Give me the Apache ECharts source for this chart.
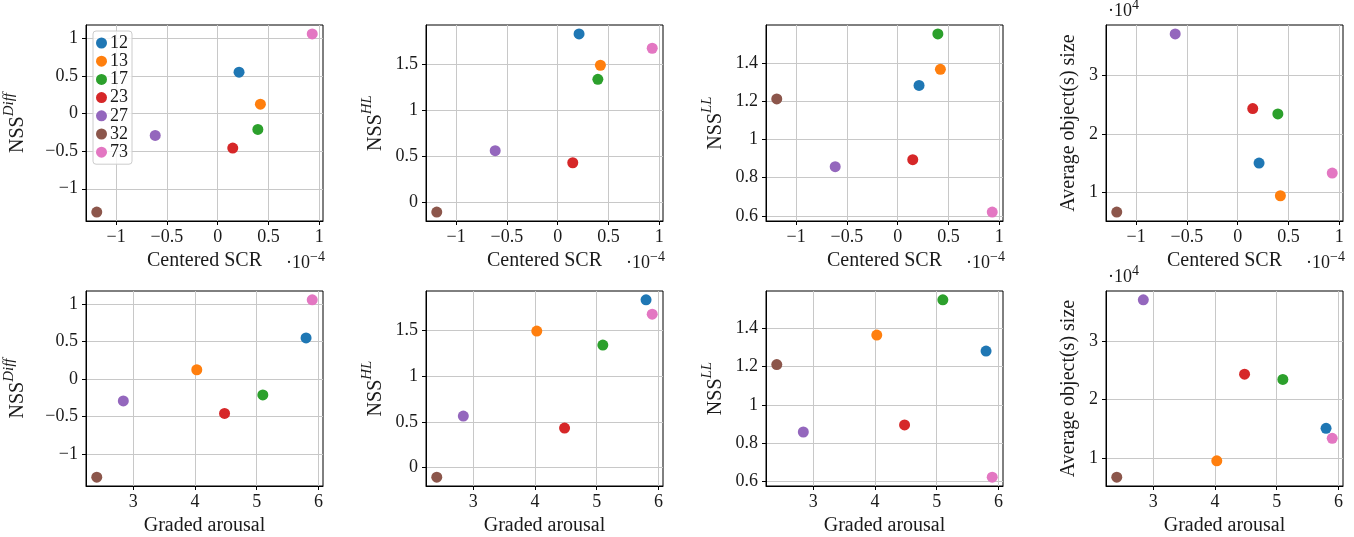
<!DOCTYPE html>
<html>
<head>
<meta charset="utf-8">
<script src="https://cdn.jsdelivr.net/npm/echarts@6/dist/echarts.min.js"></script>
<style>html,body{margin:0;padding:0;background:#fff}#main{width:1354px;height:537px}</style>
</head>
<body>
<div id="main"></div>
<script>
// subjects and their colours
const subjects = ['12', '13', '17', '23', '27', '32', '73'];
const colors = ['#1f77b4', '#ff7f0e', '#2ca02c', '#d62728', '#9467bd', '#8c564b', '#e377c2'];

// x values (same order as subjects)
const centeredScr = [0.21, 0.42, 0.395, 0.148, -0.615, -1.19, 0.93];   // x 1e-4
const gradedArousal = [5.80, 4.03, 5.10, 4.48, 2.84, 2.41, 5.90];

// y values
const nssDiff = [0.549, 0.124, -0.212, -0.46, -0.292, -1.31, 1.057];
const nssHL = [1.834, 1.493, 1.340, 0.432, 0.563, -0.105, 1.678];
const nssLL = [1.282, 1.366, 1.551, 0.894, 0.857, 1.211, 0.620];
const objSize = [1.507, 0.949, 2.345, 2.436, 3.71, 0.67, 1.336];      // x 1e4

// tick labels
const scrTicks = [-1, -0.5, 0, 0.5, 1];
const arousalTicks = [3, 4, 5, 6];
const diffTicks = [-1, -0.5, 0, 0.5, 1];
const hlTicks = [0, 0.5, 1, 1.5];
const llTicks = [0.6, 0.8, 1, 1.2, 1.4];
const sizeTicks = [1, 2, 3];

const FONT = 'Liberation Serif';
const TXT = '#1a1a1a';

const xDefs = [
  { name: 'Centered SCR', data: centeredScr, ticks: scrTicks },
  { name: 'Graded arousal', data: gradedArousal, ticks: arousalTicks }
];
const yDefs = [
  { name: 'NSS{sup|Diff}', data: nssDiff, ticks: diffTicks, gap: 58 },
  { name: 'NSS{sup|HL}', data: nssHL, ticks: hlTicks, gap: 40 },
  { name: 'NSS{sup|LL}', data: nssLL, ticks: llTicks, gap: 40 },
  { name: 'Average object(s) size', data: objSize, ticks: sizeTicks, gap: 27 }
];

const lefts = [86, 426, 766, 1106];
const tops = [25, 291];
const W = 237, H = 196;

function padRange(arr) {
  const lo = Math.min(...arr), hi = Math.max(...arr), p = (hi - lo) * 0.05;
  return [lo - p, hi + p];
}
const fmt = v => (v < 0 ? '\u2212' + Math.abs(v) : String(v));
const supRich = {
  main: { fontFamily: FONT, fontSize: 20, color: TXT, lineHeight: 22, verticalAlign: 'bottom' },
  sup: { fontFamily: FONT, fontSize: 15, fontStyle: 'italic', color: TXT, lineHeight: 15, padding: [0, 0, 11, 0], verticalAlign: 'bottom' }
};

let grid = [], xAxis = [], yAxis = [], series = [];
for (let r = 0; r < 2; r++) {
  for (let c = 0; c < 4; c++) {
    const gi = r * 4 + c;
    const xd = xDefs[r], yd = yDefs[c];
    grid.push({ left: lefts[c], top: tops[r], width: W, height: H, show: true, borderColor: '#000', borderWidth: 1, backgroundColor: 'transparent' });
    const xr = padRange(xd.data), yr = padRange(yd.data);
    xAxis.push({
      gridIndex: gi, type: 'value', min: xr[0], max: xr[1],
      name: xd.name, nameLocation: 'middle', nameGap: 30,
      nameTextStyle: { fontFamily: FONT, fontSize: 20, color: TXT },
      axisLine: { show: true, onZero: false, lineStyle: { color: '#000', width: 1 } },
      axisTick: { show: true, customValues: xd.ticks, length: 4, lineStyle: { color: '#000' } },
      axisLabel: { customValues: xd.ticks, formatter: fmt, margin: 7, fontFamily: FONT, fontSize: 18, color: TXT },
      splitLine: { show: true, lineStyle: { color: '#c8c8c8', width: 1 } }
    });
    const nm = yd.name.indexOf('{') >= 0 ? '{main|' + yd.name.replace('{sup|', '}{sup|') : yd.name;
    yAxis.push({
      gridIndex: gi, type: 'value', min: yr[0], max: yr[1],
      name: nm, nameLocation: 'middle', nameGap: yd.gap, nameRotate: 90,
      nameTextStyle: { fontFamily: FONT, fontSize: 20, color: TXT, rich: supRich },
      axisLine: { show: true, onZero: false, lineStyle: { color: '#000', width: 1 } },
      axisTick: { show: true, customValues: yd.ticks, length: 4, lineStyle: { color: '#000' } },
      axisLabel: { customValues: yd.ticks, formatter: fmt, margin: 8, fontFamily: FONT, fontSize: 18, color: TXT },
      splitLine: { show: true, lineStyle: { color: '#c8c8c8', width: 1 } }
    });
    subjects.forEach((s, i) => {
      series.push({
        type: 'scatter', name: s, xAxisIndex: gi, yAxisIndex: gi,
        symbolSize: 11, itemStyle: { color: colors[i], opacity: 1 },
        data: [[xd.data[i], yd.data[i]]]
      });
    });
  }
}

const offRich = {
  sup: { fontFamily: FONT, fontSize: 14, color: TXT, lineHeight: 14, padding: [0, 0, 9, 0], verticalAlign: 'bottom' }
};
const title = [];
for (let c = 0; c < 4; c++) {
  title.push({
    text: '\u00b710{sup|\u22124}', right: 1354 - (lefts[c] + W) - 2, top: 253, padding: 0,
    textStyle: { fontFamily: FONT, fontSize: 18, fontWeight: 'normal', color: TXT, lineHeight: 20, rich: offRich }
  });
}
[0, 1].forEach(r => {
  title.push({
    text: '\u00b710{sup|4}', left: lefts[3] + 2, top: tops[r] - 24, padding: 0,
    textStyle: { fontFamily: FONT, fontSize: 18, fontWeight: 'normal', color: TXT, lineHeight: 20, rich: offRich }
  });
});

const option = {
  backgroundColor: '#fff',
  animation: false,
  title: title,
  legend: {
    data: subjects, orient: 'vertical', left: 93, top: 31,
    icon: 'circle', itemWidth: 11, itemHeight: 11, itemGap: 0.2,
    padding: [3, 4, 3, 3], borderColor: '#cccccc', borderWidth: 1, borderRadius: 3,
    backgroundColor: 'rgba(255,255,255,0.8)',
    textStyle: { fontFamily: FONT, fontSize: 18, color: TXT, lineHeight: 16, padding: [0, 0, 0, -2] }
  },
  grid: grid, xAxis: xAxis, yAxis: yAxis, series: series
};

const myChart = echarts.init(document.getElementById('main'));
myChart.setOption(option);
</script>
</body>
</html>
